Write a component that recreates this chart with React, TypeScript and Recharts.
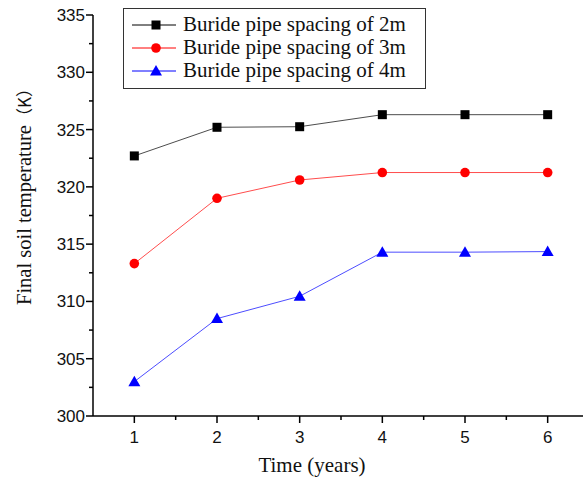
import React from 'react';
import { LineChart, Line, XAxis, YAxis, Legend } from 'recharts';

const years = [1, 2, 3, 4, 5, 6];
const spacing2m = [322.7, 325.2, 325.25, 326.3, 326.3, 326.3];
const spacing3m = [313.3, 319.0, 320.6, 321.25, 321.25, 321.25];
const spacing4m = [303.0, 308.5, 310.45, 314.3, 314.3, 314.35];
const xTicks = [1, 1.5, 2, 2.5, 3, 3.5, 4, 4.5, 5, 5.5, 6];
const yTicks = [300, 302.5, 305, 307.5, 310, 312.5, 315, 317.5, 320, 322.5, 325, 327.5, 330, 332.5, 335];

const data = years.map((year, i) => ({
  year,
  s2: spacing2m[i],
  s3: spacing3m[i],
  s4: spacing4m[i],
}));

const series = [
  { key: 's2', name: 'Buride pipe spacing of 2m', color: '#000000', shape: 'square' },
  { key: 's3', name: 'Buride pipe spacing of 3m', color: '#ff0000', shape: 'circle' },
  { key: 's4', name: 'Buride pipe spacing of 4m', color: '#0000ff', shape: 'triangle' },
];

const sansFont = '"Liberation Sans", Arial, sans-serif';
const serifFont = '"Liberation Serif", "Times New Roman", serif';

function Marker({ shape, cx, cy, color }: { shape: string; cx: number; cy: number; color: string }) {
  if (shape === 'square') {
    return <rect x={cx - 4.5} y={cy - 4.5} width={9} height={9} fill={color} />;
  }
  if (shape === 'triangle') {
    return <polygon points={`${cx},${cy - 6} ${cx - 6},${cy + 4.5} ${cx + 6},${cy + 4.5}`} fill={color} />;
  }
  return <circle cx={cx} cy={cy} r={4.8} fill={color} />;
}

const XTick = (props: any) => {
  const { x, y, payload } = props;
  const major = Number.isInteger(payload.value);
  return (
    <g>
      <line x1={x} y1={y} x2={x} y2={y + (major ? 7 : 4)} stroke="#000" strokeWidth={1.5} />
      {major && (
        <text x={x} y={y + 27} textAnchor="middle" fontFamily={sansFont} fontSize={17} fill="#111">
          {payload.value}
        </text>
      )}
    </g>
  );
};

const YTick = (props: any) => {
  const { x, y, payload } = props;
  const major = payload.value % 5 === 0;
  return (
    <g>
      <line x1={x} y1={y} x2={x - (major ? 7 : 4)} y2={y} stroke="#000" strokeWidth={1.5} />
      {major && (
        <text x={x - 8} y={y + 6} textAnchor="end" fontFamily={sansFont} fontSize={17} fill="#111">
          {payload.value}
        </text>
      )}
    </g>
  );
};

const LegendBox = () => (
  <div
    style={{
      border: '1.5px solid #333',
      background: '#fff',
      padding: '4px 0 0 8px',
      boxSizing: 'border-box',
      width: '100%',
      height: '100%',
    }}
  >
    {series.map((s) => (
      <div key={s.key} style={{ display: 'flex', alignItems: 'center', height: 23 }}>
        <svg width={46} height={16} style={{ marginRight: 5 }}>
          <line x1={0} y1={8} x2={44} y2={8} stroke={s.color} strokeWidth={1} />
          <Marker shape={s.shape} cx={24} cy={8} color={s.color} />
        </svg>
        <span style={{ fontFamily: serifFont, fontSize: 21, color: '#111', lineHeight: '23px' }}>{s.name}</span>
      </div>
    ))}
  </div>
);

export default function App() {
  return (
    <div style={{ position: 'absolute', left: 0, top: 0, width: 583, height: 479, overflow: 'hidden', background: '#fff' }}>
      <LineChart width={600} height={479} data={data} margin={{ top: 15, right: 11, left: 0, bottom: 0 }}>
        <XAxis
          dataKey="year"
          type="number"
          domain={[0.5, 6.5]}
          ticks={xTicks}
          interval={0}
          height={63}
          tickSize={0}
          tickMargin={0}
          tick={<XTick />}
          axisLine={{ stroke: '#000', strokeWidth: 1.5 }}
          tickLine={false}
          label={() => (
            <text x={312} y={472} textAnchor="middle" fontFamily={serifFont} fontSize={21} fill="#111">
              Time (years)
            </text>
          )}
        />
        <YAxis
          type="number"
          domain={[300, 335]}
          ticks={yTicks}
          interval={0}
          width={93}
          tickSize={0}
          tickMargin={0}
          tick={<YTick />}
          axisLine={{ stroke: '#000', strokeWidth: 1.5 }}
          tickLine={false}
          label={() => (
            <text
              x={31}
              y={305}
              transform="rotate(-90 31 305)"
              textAnchor="start"
              fontFamily={serifFont}
              fontSize={20.5}
              fill="#111"
            >
              Final soil temperature
              <tspan fontFamily='"Noto Sans CJK SC", sans-serif' fontSize={17}>（K）</tspan>
            </text>
          )}
        />
        <Legend
          layout="vertical"
          align="center"
          verticalAlign="middle"
          wrapperStyle={{ left: 123, top: 8, width: 303, height: 81 }}
          content={() => <LegendBox />}
        />
        {series.map((s) => (
          <Line
            key={s.key}
            dataKey={s.key}
            name={s.name}
            stroke={s.color}
            strokeWidth={1}
            strokeOpacity={0.7}
            isAnimationActive={false}
            dot={(p: any) => <Marker key={`${s.key}-${p.index}`} shape={s.shape} cx={p.cx} cy={p.cy} color={s.color} />}
            activeDot={false}
          />
        ))}
      </LineChart>
    </div>
  );
}
